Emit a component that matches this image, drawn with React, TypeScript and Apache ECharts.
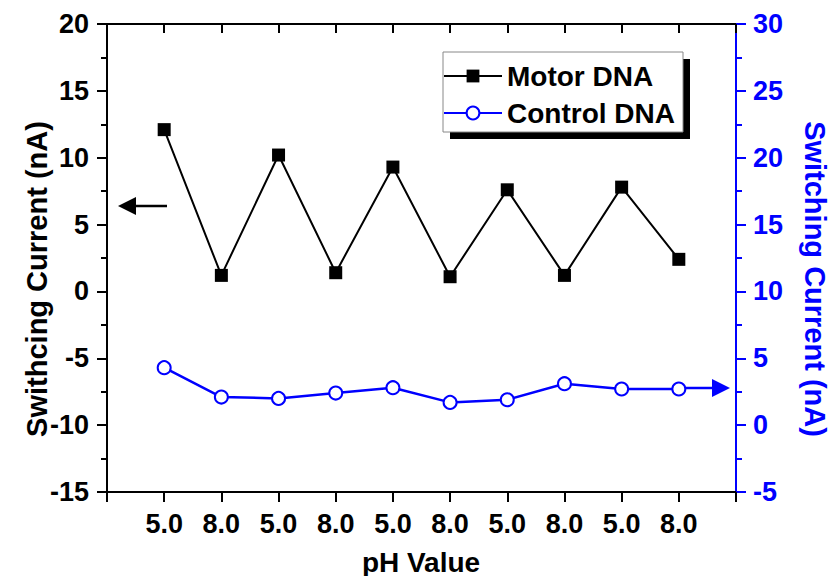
import React, { useEffect, useRef } from "react";
import * as echarts from "echarts";

const phLabels = ["5.0", "8.0", "5.0", "8.0", "5.0", "8.0", "5.0", "8.0", "5.0", "8.0"];
const motorDNA = [12.1, 1.2, 10.2, 1.4, 9.3, 1.1, 7.6, 1.2, 7.8, 2.4];
const controlDNA = [4.3, 2.1, 2.0, 2.4, 2.8, 1.7, 1.9, 3.1, 2.7, 2.7];
const leftTicks = { min: -15, max: 20, interval: 5 };
const rightTicks = { min: -5, max: 30, interval: 5 };

const FONT = "'Liberation Sans', Arial, sans-serif";
const BLUE = "#0000ff";

export default function App() {
  const ref = useRef<HTMLDivElement>(null);
  useEffect(() => {
    if (!ref.current) return;
    const chart = echarts.init(ref.current, undefined, { renderer: "svg" });
    const xBase = {
      type: "value" as const,
      min: 0,
      max: phLabels.length + 1,
      interval: 1,
      splitLine: { show: false },
    };
    chart.setOption({
      animation: false,
      backgroundColor: "#fff",
      textStyle: { fontFamily: FONT },
      grid: { left: 107, top: 24, width: 629, height: 468, containLabel: false },
      xAxis: [
        {
          ...xBase,
          position: "bottom",
          axisLine: { show: true, onZero: false, lineStyle: { color: "#000", width: 2 } },
          axisTick: { show: true, inside: false, length: 10, lineStyle: { color: "#000", width: 2 } },
          axisLabel: {
            show: true,
            margin: 18,
            color: "#000",
            fontSize: 27,
            fontWeight: "bold",
            fontFamily: FONT,
            formatter: (v: number) => (v >= 1 && v <= phLabels.length ? phLabels[v - 1] : ""),
          },
        },
        {
          ...xBase,
          position: "top",
          axisLine: { show: true, onZero: false, lineStyle: { color: "#000", width: 2 } },
          axisTick: { show: true, inside: true, length: 9, lineStyle: { color: "#000", width: 2 } },
          axisLabel: { show: false },
        },
      ],
      yAxis: [
        {
          type: "value",
          position: "left",
          ...leftTicks,
          splitLine: { show: false },
          axisLine: { show: true, onZero: false, lineStyle: { color: "#000", width: 2 } },
          axisTick: { show: true, length: 10, lineStyle: { color: "#000", width: 2 } },
          minorTick: { show: true, splitNumber: 2, length: 6, lineStyle: { color: "#000", width: 2 } },
          axisLabel: { margin: 18, color: "#000", fontSize: 27, fontWeight: "bold", fontFamily: FONT },
        },
        {
          type: "value",
          position: "right",
          ...rightTicks,
          splitLine: { show: false },
          axisLine: { show: true, onZero: false, lineStyle: { color: BLUE, width: 2 } },
          axisTick: { show: true, length: 10, lineStyle: { color: BLUE, width: 2 } },
          minorTick: { show: true, splitNumber: 2, length: 6, lineStyle: { color: BLUE, width: 2 } },
          axisLabel: { margin: 17, color: BLUE, fontSize: 27, fontWeight: "bold", fontFamily: FONT },
        },
      ],
      legend: {
        orient: "vertical",
        left: 443,
        top: 61,
        padding: 0,
        itemWidth: 58,
        itemHeight: 16,
        itemGap: 7,
        selectedMode: false,
        textStyle: { color: "#000", fontSize: 28, fontWeight: "bold", fontFamily: FONT, lineHeight: 30 },
        data: ["Motor DNA", "Control DNA"],
      },
      graphic: [
        { type: "rect", z: 0, shape: { x: 450, y: 59, width: 240, height: 80 }, style: { fill: "#000" } },
        {
          type: "rect",
          z: 1,
          shape: { x: 443, y: 52, width: 240, height: 80 },
          style: { fill: "#fff", stroke: "#888", lineWidth: 1 },
        },
        // left arrow
        { type: "line", z: 10, shape: { x1: 167, y1: 206, x2: 132, y2: 206 }, style: { stroke: "#000", lineWidth: 2.5 } },
        {
          type: "polygon",
          z: 10,
          shape: { points: [[118, 206], [136, 197], [136, 215]] },
          style: { fill: "#000" },
        },
        // right arrow
        { type: "line", z: 10, shape: { x1: 686, y1: 388, x2: 714, y2: 388 }, style: { stroke: BLUE, lineWidth: 2.5 } },
        {
          type: "polygon",
          z: 10,
          shape: { points: [[730, 388], [712, 379], [712, 397]] },
          style: { fill: BLUE },
        },
        {
          type: "text",
          x: 37,
          y: 279,
          rotation: Math.PI / 2,
          style: {
            text: "Swithcing Current (nA)",
            fill: "#000",
            font: `bold 29px ${FONT}`,
            textAlign: "center",
            textVerticalAlign: "middle",
          },
        },
        {
          type: "text",
          x: 815,
          y: 279,
          rotation: -Math.PI / 2,
          style: {
            text: "Switching Current (nA)",
            fill: BLUE,
            font: `bold 29px ${FONT}`,
            textAlign: "center",
            textVerticalAlign: "middle",
          },
        },
        {
          type: "text",
          x: 421,
          y: 562,
          style: {
            text: "pH Value",
            fill: "#000",
            font: `bold 28px ${FONT}`,
            textAlign: "center",
            textVerticalAlign: "middle",
          },
        },
      ],
      series: [
        {
          name: "Motor DNA",
          type: "line",
          xAxisIndex: 0,
          yAxisIndex: 0,
          data: motorDNA.map((v, i) => [i + 1, v]),
          symbol: "rect",
          symbolSize: 13,
          itemStyle: { color: "#000" },
          lineStyle: { color: "#000", width: 2 },
          z: 3,
        },
        {
          name: "Control DNA",
          type: "line",
          xAxisIndex: 0,
          yAxisIndex: 1,
          data: controlDNA.map((v, i) => [i + 1, v]),
          symbol: "emptyCircle",
          symbolSize: 13,
          itemStyle: { color: BLUE, borderColor: BLUE, borderWidth: 1.5 },
          lineStyle: { color: BLUE, width: 2.5 },
          z: 3,
        },
      ],
    });
    return () => chart.dispose();
  }, []);
  return (
    <div
      ref={ref}
      style={{ position: "fixed", left: 0, top: 0, width: 835, height: 576 }}
    />
  );
}
